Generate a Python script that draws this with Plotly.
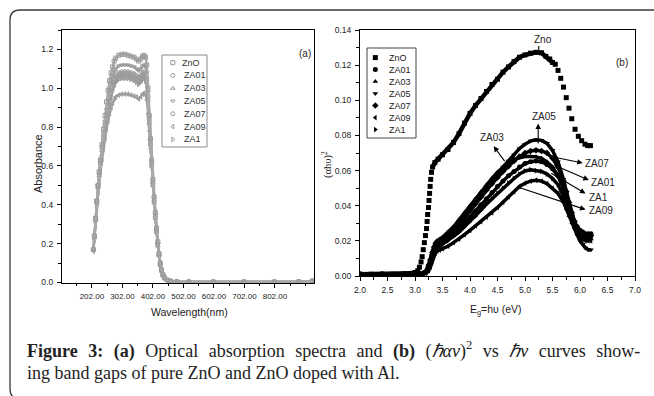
import plotly.graph_objects as go

W, H = 654, 396

# ---------------- Panel (a): absorbance vs wavelength ----------------
wavelength = [207, 210, 214, 218, 222, 226, 230, 235, 240, 245, 250, 255, 260, 265, 270, 275, 280,
              290, 300, 310, 320, 330, 340, 348, 355, 362, 368, 373, 378, 382, 386, 390, 394, 398,
              402, 406, 410, 414, 418, 422, 426, 430, 435, 440, 450, 460, 480, 520, 600, 700, 800,
              880, 925]
abs_ZnO = [0.17, 0.24, 0.33, 0.42, 0.50, 0.57, 0.63, 0.71, 0.79, 0.86, 0.93, 0.99, 1.04, 1.08, 1.11,
           1.14, 1.155, 1.17, 1.175, 1.175, 1.17, 1.165, 1.16, 1.15, 1.14, 1.15, 1.165, 1.17, 1.16,
           1.12, 1.00, 0.86, 0.74, 0.63, 0.53, 0.44, 0.36, 0.28, 0.21, 0.15, 0.10, 0.065, 0.04,
           0.025, 0.012, 0.007, 0.004, 0.003, 0.003, 0.003, 0.003, 0.004, 0.008]
abs_ZA05 = [0.17, 0.24, 0.33, 0.42, 0.50, 0.57, 0.63, 0.70, 0.77, 0.83, 0.89, 0.94, 0.99, 1.03, 1.06,
            1.085, 1.10, 1.115, 1.12, 1.12, 1.12, 1.115, 1.11, 1.10, 1.09, 1.10, 1.115, 1.12, 1.11,
            1.08, 0.98, 0.85, 0.73, 0.62, 0.52, 0.43, 0.35, 0.27, 0.20, 0.145, 0.095, 0.062, 0.038,
            0.024, 0.011, 0.006, 0.004, 0.003, 0.003, 0.003, 0.003, 0.004, 0.007]
abs_ZA07 = [0.17, 0.24, 0.33, 0.42, 0.50, 0.56, 0.62, 0.69, 0.76, 0.82, 0.87, 0.92, 0.96, 1.00, 1.03,
            1.05, 1.065, 1.08, 1.085, 1.085, 1.085, 1.08, 1.075, 1.065, 1.055, 1.065, 1.08, 1.085,
            1.075, 1.05, 0.96, 0.84, 0.72, 0.61, 0.51, 0.42, 0.34, 0.27, 0.20, 0.14, 0.095, 0.06,
            0.037, 0.023, 0.011, 0.006, 0.004, 0.003, 0.003, 0.003, 0.003, 0.004, 0.007]
abs_ZA01 = [0.17, 0.24, 0.33, 0.41, 0.49, 0.56, 0.62, 0.69, 0.75, 0.81, 0.86, 0.91, 0.95, 0.99, 1.02,
            1.04, 1.055, 1.07, 1.075, 1.075, 1.075, 1.07, 1.065, 1.055, 1.045, 1.055, 1.07, 1.075,
            1.065, 1.04, 0.95, 0.83, 0.71, 0.61, 0.51, 0.42, 0.34, 0.26, 0.20, 0.14, 0.09, 0.06,
            0.036, 0.022, 0.011, 0.006, 0.004, 0.003, 0.003, 0.003, 0.003, 0.004, 0.007]
abs_ZA03 = [0.17, 0.23, 0.32, 0.41, 0.49, 0.55, 0.61, 0.68, 0.74, 0.80, 0.85, 0.90, 0.94, 0.98, 1.01,
            1.03, 1.045, 1.06, 1.065, 1.065, 1.065, 1.06, 1.055, 1.045, 1.035, 1.045, 1.06, 1.065,
            1.055, 1.03, 0.94, 0.82, 0.71, 0.60, 0.50, 0.41, 0.33, 0.26, 0.19, 0.14, 0.09, 0.06,
            0.036, 0.022, 0.011, 0.006, 0.004, 0.003, 0.003, 0.003, 0.003, 0.004, 0.007]
abs_ZA09 = [0.16, 0.22, 0.31, 0.39, 0.46, 0.52, 0.57, 0.63, 0.69, 0.74, 0.79, 0.83, 0.87, 0.90, 0.925,
            0.945, 0.955, 0.965, 0.97, 0.97, 0.97, 0.965, 0.96, 0.955, 0.945, 0.955, 0.97, 0.975,
            0.965, 0.94, 0.87, 0.78, 0.69, 0.60, 0.51, 0.42, 0.34, 0.26, 0.19, 0.14, 0.09, 0.06,
            0.036, 0.022, 0.01, 0.006, 0.004, 0.003, 0.003, 0.003, 0.003, 0.004, 0.007]
abs_ZA1 = [0.17, 0.23, 0.32, 0.40, 0.48, 0.55, 0.61, 0.67, 0.73, 0.79, 0.84, 0.88, 0.92, 0.96, 0.99,
           1.01, 1.03, 1.045, 1.05, 1.05, 1.05, 1.045, 1.04, 1.03, 1.02, 1.03, 1.045, 1.05, 1.04,
           1.015, 0.93, 0.81, 0.70, 0.60, 0.50, 0.41, 0.33, 0.26, 0.19, 0.14, 0.09, 0.06, 0.036,
           0.022, 0.011, 0.006, 0.004, 0.003, 0.003, 0.003, 0.003, 0.004, 0.007]

# ---------------- Panel (b): (alpha h nu)^2 vs energy ----------------
E_ZnO = [2.0, 2.2, 2.4, 2.6, 2.8, 2.9, 2.95, 3.0, 3.05, 3.08, 3.11, 3.13, 3.15, 3.17, 3.19, 3.21,
         3.22, 3.23, 3.245, 3.255, 3.265, 3.275, 3.285, 3.30, 3.32, 3.36, 3.42, 3.5, 3.6, 3.7, 3.8,
         3.9, 4.0, 4.1, 4.2, 4.3, 4.4, 4.5, 4.6, 4.7, 4.8, 4.9, 5.0, 5.1, 5.2, 5.3, 5.38, 5.45, 5.5,
         5.55, 5.6, 5.65, 5.70, 5.75, 5.80, 5.85, 5.91, 5.97, 6.03, 6.09, 6.14, 6.19]
v_ZnO = [0.001, 0.001, 0.001, 0.001, 0.001, 0.0012, 0.0015, 0.002, 0.003, 0.005, 0.008, 0.011, 0.015,
         0.019, 0.023, 0.027, 0.031, 0.035, 0.039, 0.043, 0.047, 0.051, 0.055, 0.059, 0.062, 0.0645,
         0.0665, 0.069, 0.072, 0.076, 0.081, 0.087, 0.0925, 0.097, 0.101, 0.105, 0.109, 0.112, 0.116,
         0.119, 0.122, 0.1245, 0.1258, 0.1268, 0.1273, 0.127, 0.125, 0.1235, 0.1215, 0.1205, 0.117,
         0.1125, 0.1075, 0.1015, 0.0955, 0.0895, 0.0835, 0.0795, 0.077, 0.075, 0.0742, 0.0742]
E_ZA = [2.0, 2.4, 2.8, 3.0, 3.1, 3.15, 3.2, 3.25, 3.28, 3.31, 3.34, 3.37, 3.4, 3.45, 3.5, 3.6, 3.7,
        3.8, 3.9, 4.0, 4.1, 4.2, 4.3, 4.4, 4.5, 4.6, 4.7, 4.8, 4.9, 5.0, 5.1, 5.2, 5.3, 5.4, 5.5,
        5.6, 5.7, 5.75, 5.8, 5.85, 5.9, 5.95, 6.0, 6.05, 6.1, 6.15, 6.2]
v_ZA05 = [0.001, 0.001, 0.001, 0.001, 0.0012, 0.0015, 0.0025, 0.006, 0.009, 0.013, 0.016, 0.018,
          0.019, 0.0198, 0.021, 0.024, 0.027, 0.0305, 0.0345, 0.0385, 0.0425, 0.0465, 0.0505, 0.0545,
          0.0585, 0.062, 0.0655, 0.069, 0.0725, 0.075, 0.0768, 0.0775, 0.0772, 0.0755, 0.0715, 0.065,
          0.055, 0.048, 0.040, 0.033, 0.027, 0.023, 0.020, 0.018, 0.016, 0.015, 0.015]
v_ZA07 = [0.001, 0.001, 0.001, 0.001, 0.0012, 0.0015, 0.0025, 0.006, 0.009, 0.012, 0.015, 0.017,
          0.018, 0.019, 0.020, 0.023, 0.026, 0.029, 0.033, 0.037, 0.041, 0.045, 0.049, 0.0525, 0.056,
          0.0595, 0.0625, 0.0655, 0.068, 0.070, 0.0712, 0.0715, 0.0712, 0.070, 0.067, 0.062, 0.054,
          0.048, 0.042, 0.036, 0.031, 0.027, 0.025, 0.024, 0.023, 0.023, 0.023]
v_ZA03 = [0.001, 0.001, 0.001, 0.001, 0.0012, 0.0016, 0.003, 0.007, 0.010, 0.014, 0.017, 0.019, 0.020,
          0.021, 0.022, 0.025, 0.028, 0.032, 0.036, 0.040, 0.044, 0.048, 0.052, 0.0555, 0.059, 0.062,
          0.0645, 0.0665, 0.0675, 0.068, 0.068, 0.0678, 0.067, 0.065, 0.062, 0.057, 0.050, 0.045,
          0.040, 0.035, 0.030, 0.027, 0.025, 0.023, 0.022, 0.022, 0.021]
v_ZA01 = [0.001, 0.001, 0.001, 0.001, 0.0012, 0.0015, 0.0022, 0.005, 0.008, 0.011, 0.014, 0.016,
          0.017, 0.018, 0.019, 0.0215, 0.024, 0.027, 0.030, 0.0335, 0.037, 0.0405, 0.044, 0.0475,
          0.051, 0.054, 0.057, 0.0595, 0.062, 0.064, 0.065, 0.0655, 0.065, 0.0635, 0.061, 0.057,
          0.050, 0.045, 0.040, 0.035, 0.031, 0.028, 0.026, 0.025, 0.024, 0.024, 0.024]
v_ZA1 = [0.001, 0.001, 0.001, 0.001, 0.0012, 0.0015, 0.002, 0.0045, 0.007, 0.010, 0.013, 0.015, 0.016,
         0.017, 0.018, 0.020, 0.0225, 0.025, 0.028, 0.031, 0.034, 0.0375, 0.041, 0.044, 0.047, 0.050,
         0.053, 0.0555, 0.058, 0.0598, 0.0605, 0.060, 0.0595, 0.058, 0.0555, 0.052, 0.046, 0.042,
         0.037, 0.033, 0.029, 0.026, 0.024, 0.023, 0.022, 0.022, 0.022]
v_ZA09 = [0.001, 0.001, 0.001, 0.001, 0.001, 0.0012, 0.0015, 0.003, 0.005, 0.008, 0.011, 0.013,
          0.0142, 0.0148, 0.0155, 0.017, 0.019, 0.021, 0.0235, 0.026, 0.0285, 0.031, 0.0335, 0.036,
          0.039, 0.042, 0.045, 0.048, 0.051, 0.0528, 0.054, 0.0545, 0.054, 0.0525, 0.050, 0.047,
          0.042, 0.038, 0.034, 0.030, 0.027, 0.024, 0.022, 0.021, 0.020, 0.020, 0.020]

names = ["ZnO", "ZA01", "ZA03", "ZA05", "ZA07", "ZA09", "ZA1"]
x_tick_a = [202, 302, 402, 502, 602, 702, 802]

# curve labels in panel (b): (label, text E, text v, anchor, head E, head v, tail E, tail v)
curve_labels = [
    ("Zno", 5.33, 0.1348, "center", 5.25, 0.1285, 5.25, 0.1318),
    ("ZA05", 5.345, 0.0910, "center", 5.24, 0.0868, 5.24, 0.0745),
    ("ZA03", 4.40, 0.0788, "center", 4.43, 0.0738, 4.65, 0.0645),
    ("ZA07", 6.05, 0.0641, "left", 6.05, 0.0643, 5.51, 0.0678),
    ("ZA01", 6.16, 0.0533, "left", 6.16, 0.0546, 5.50, 0.0635),
    ("ZA1", 6.12, 0.0448, "left", 6.10, 0.0470, 5.45, 0.0590),
    ("ZA09", 6.12, 0.0370, "left", 6.10, 0.0378, 4.88, 0.0505),
]

# ---------------- figure ----------------
def fx(p):
    return p / W

def fy(p):
    return 1 - p / H

SANS = "Liberation Sans, Arial, sans-serif"
SERIF = "Liberation Serif, Times New Roman, serif"
TXT = "#222222"

abs_series = {"ZnO": abs_ZnO, "ZA01": abs_ZA01, "ZA03": abs_ZA03, "ZA05": abs_ZA05,
              "ZA07": abs_ZA07, "ZA09": abs_ZA09, "ZA1": abs_ZA1}
v_series = {"ZA01": v_ZA01, "ZA03": v_ZA03, "ZA05": v_ZA05, "ZA07": v_ZA07,
            "ZA09": v_ZA09, "ZA1": v_ZA1}
open_sym = {"ZnO": "square-open", "ZA01": "circle-open", "ZA03": "triangle-up-open",
            "ZA05": "triangle-down-open", "ZA07": "circle-open", "ZA09": "triangle-left-open",
            "ZA1": "triangle-right-open"}
fill_sym = {"ZnO": "square", "ZA01": "circle", "ZA03": "triangle-up", "ZA05": "triangle-down",
            "ZA07": "diamond", "ZA09": "triangle-left", "ZA1": "triangle-right"}
GRAY = "#9a9a9a"

fig = go.Figure()

# panel (a) curves
for nm in ["ZA09", "ZA1", "ZA03", "ZA01", "ZA07", "ZA05", "ZnO"]:
    fig.add_trace(go.Scatter(
        x=wavelength, y=abs_series[nm], mode="lines+markers", name=nm, showlegend=False,
        line=dict(color="#a8a8a8", width=2.4),
        marker=dict(symbol=open_sym[nm], size=4, color=GRAY, line=dict(color=GRAY, width=1)),
        xaxis="x", yaxis="y"))

# panel (b) curves
for nm in ["ZA09", "ZA1", "ZA01", "ZA03", "ZA07", "ZA05"]:
    fig.add_trace(go.Scatter(
        x=E_ZA, y=v_series[nm], mode="lines+markers", name=nm, showlegend=False,
        line=dict(color="black", width=3.5),
        marker=dict(symbol=fill_sym[nm], size=5, color="black"),
        xaxis="x2", yaxis="y2"))
zno_dense = [v if (e <= 3.02 or 3.31 <= e <= 5.52) else None for e, v in zip(E_ZnO, v_ZnO)]
fig.add_trace(go.Scatter(x=E_ZnO, y=zno_dense, mode="lines", showlegend=False, connectgaps=False,
                         line=dict(color="black", width=4.5), xaxis="x2", yaxis="y2"))
fig.add_trace(go.Scatter(x=E_ZnO, y=v_ZnO, mode="markers", name="ZnO", showlegend=False,
                         marker=dict(symbol="square", size=5, color="black"),
                         xaxis="x2", yaxis="y2"))

# legend samples (drawn on hidden helper axes spanning the legend boxes)
idx = list(range(len(names)))
fig.add_trace(go.Scatter(x=[0.24] * len(names), y=idx, mode="markers", showlegend=False,
                         marker=dict(symbol=[open_sym[n] for n in names], size=4, color=GRAY,
                                     line=dict(color=GRAY, width=1)),
                         xaxis="x3", yaxis="y3"))
fig.add_trace(go.Scatter(x=[0.17] * len(names), y=idx, mode="markers", showlegend=False,
                         marker=dict(symbol=[fill_sym[n] for n in names], size=5, color="black"),
                         xaxis="x4", yaxis="y4"))

axis_common = dict(showline=True, linecolor="black", linewidth=1.2, mirror=True, showgrid=False,
                   zeroline=False, ticks="outside", ticklen=4, tickwidth=1, tickcolor="black",
                   tickangle=0, ticklabelstandoff=2, automargin=False)
minor_common = dict(ticks="outside", ticklen=2.5, tickwidth=1, tickcolor="black", showgrid=False)
tickfont_a_x = dict(family=SANS, size=8, color=TXT)
tickfont = dict(family=SANS, size=8.5, color=TXT)

annotations = []
# legend texts
for i, nm in enumerate(names):
    annotations.append(dict(x=0.45 if nm != "ZnO" else 0.40, y=i, xref="x3", yref="y3", text=nm,
                            showarrow=False, xanchor="left", yanchor="middle",
                            font=dict(family=SANS, size=9, color="#333333")))
    annotations.append(dict(x=0.40, y=i, xref="x4", yref="y4", text=nm, showarrow=False,
                            xanchor="left", yanchor="middle",
                            font=dict(family=SANS, size=9, color=TXT)))
# curve labels + arrows in (b)
for lab, tx, ty, anc, hx, hy, sx, sy in curve_labels:
    annotations.append(dict(x=hx, y=hy, ax=sx, ay=sy, xref="x2", yref="y2", axref="x2", ayref="y2",
                            text="", showarrow=True, arrowhead=2 if lab != "Zno" else 0,
                            arrowsize=1, arrowwidth=1.1, arrowcolor="black"))
    annotations.append(dict(x=tx, y=ty, xref="x2", yref="y2", text=lab, showarrow=False,
                            xanchor=anc, yanchor="middle",
                            font=dict(family=SANS, size=10, color=TXT)))

SP = "\u2002\u200a"  # widened word gap: the reference caption line is justified
line1 = SP.join(["<b>Figure", "3:", "(a)</b>", "Optical", "absorption", "spectra", "and", "<b>(b)</b>",
                 "(<i>ℏαv</i>)<sup>2</sup>", "vs", "<i>ℏv</i>", "curves", "show-"])


def label(px, py, text, size, family=SANS, angle=0, xanchor="center"):
    return dict(x=fx(px), y=fy(py), xref="paper", yref="paper", text=text, showarrow=False,
                xanchor=xanchor, yanchor="middle", textangle=angle,
                font=dict(family=family, size=size, color=TXT))


annotations += [
    label(305, 53, "(a)", 10),
    label(622, 62, "(b)", 10),
    label(38, 164, "Absorbance", 11, angle=-90),
    label(189, 312, "Wavelength(nm)", 10.5),
    label(327, 165, "(αhυ)<sup>2</sup>", 10.5, family=SERIF, angle=-90),
    label(496, 310, "E<sub>g</sub>=hυ (eV)", 10.5),
    label(25, 350, line1, 18, family=SERIF, xanchor="left"),
    label(25, 373, "ing band gaps of pure ZnO and ZnO doped with Al.", 18, family=SERIF, xanchor="left"),
]

rx, ry = 10 / W, 10 / H
border = (f"M 1.05,{fy(10)} L {fx(10) + rx},{fy(10)} Q {fx(10)},{fy(10)} {fx(10)},{fy(10) - ry} "
          f"L {fx(10)},{fy(389)} Q {fx(10)},{fy(399)} {fx(10) + rx},{fy(399)} L 1.05,{fy(399)}")
shapes = [
    dict(type="path", path=border, xref="paper", yref="paper", line=dict(color="#3a3a3a", width=1.3)),
    dict(type="rect", xref="x3 domain", yref="y3 domain", x0=0, x1=1, y0=0, y1=1,
         line=dict(color="#8a8a8a", width=1)),
    dict(type="rect", xref="x4 domain", yref="y4 domain", x0=0, x1=1, y0=0, y1=1,
         line=dict(color="#444444", width=1)),
]

fig.update_layout(
    width=W, height=H, margin=dict(l=0, r=0, t=0, b=0), autosize=False,
    paper_bgcolor="white", plot_bgcolor="white", template="none", showlegend=False,
    xaxis=dict(domain=[fx(62), fx(314)], range=[104, 930], anchor="y", tickmode="array",
               tickvals=x_tick_a, ticktext=[f"{v:.2f}" for v in x_tick_a], tickfont=tickfont_a_x,
               minor=dict(tickmode="linear", tick0=152, dtick=50, **minor_common), **axis_common),
    yaxis=dict(domain=[fy(282.5), fy(30)], range=[0, 1.3], anchor="x", tick0=0, dtick=0.2,
               tickformat=".1f", tickfont=tickfont,
               minor=dict(tick0=0, dtick=0.1, **minor_common), **axis_common),
    xaxis2=dict(domain=[fx(360), fx(635)], range=[2, 7], anchor="y2", tick0=2, dtick=0.5,
                tickformat=".1f", tickfont=tickfont,
                minor=dict(tick0=2, dtick=0.25, **minor_common), **axis_common),
    yaxis2=dict(domain=[fy(276), fy(30)], range=[0, 0.14], anchor="x2", tick0=0, dtick=0.02,
                tickformat=".2f", tickfont=tickfont,
                minor=dict(tick0=0, dtick=0.01, **minor_common), **axis_common),
    xaxis3=dict(domain=[fx(162), fx(207)], range=[0, 1], anchor="y3", visible=False, fixedrange=True),
    yaxis3=dict(domain=[fy(147), fy(55)], range=[6.6, -0.6], anchor="x3", visible=False, fixedrange=True),
    xaxis4=dict(domain=[fx(367), fx(416)], range=[0, 1], anchor="y4", visible=False, fixedrange=True),
    yaxis4=dict(domain=[fy(138), fy(48)], range=[6.7, -0.8], anchor="x4", visible=False, fixedrange=True),
    annotations=annotations, shapes=shapes,
)

fig.write_html("out.html", config={"displayModeBar": False},
               post_script="document.body.style.margin='0';document.body.style.padding='0';"
                           "document.body.style.overflow='hidden';")
